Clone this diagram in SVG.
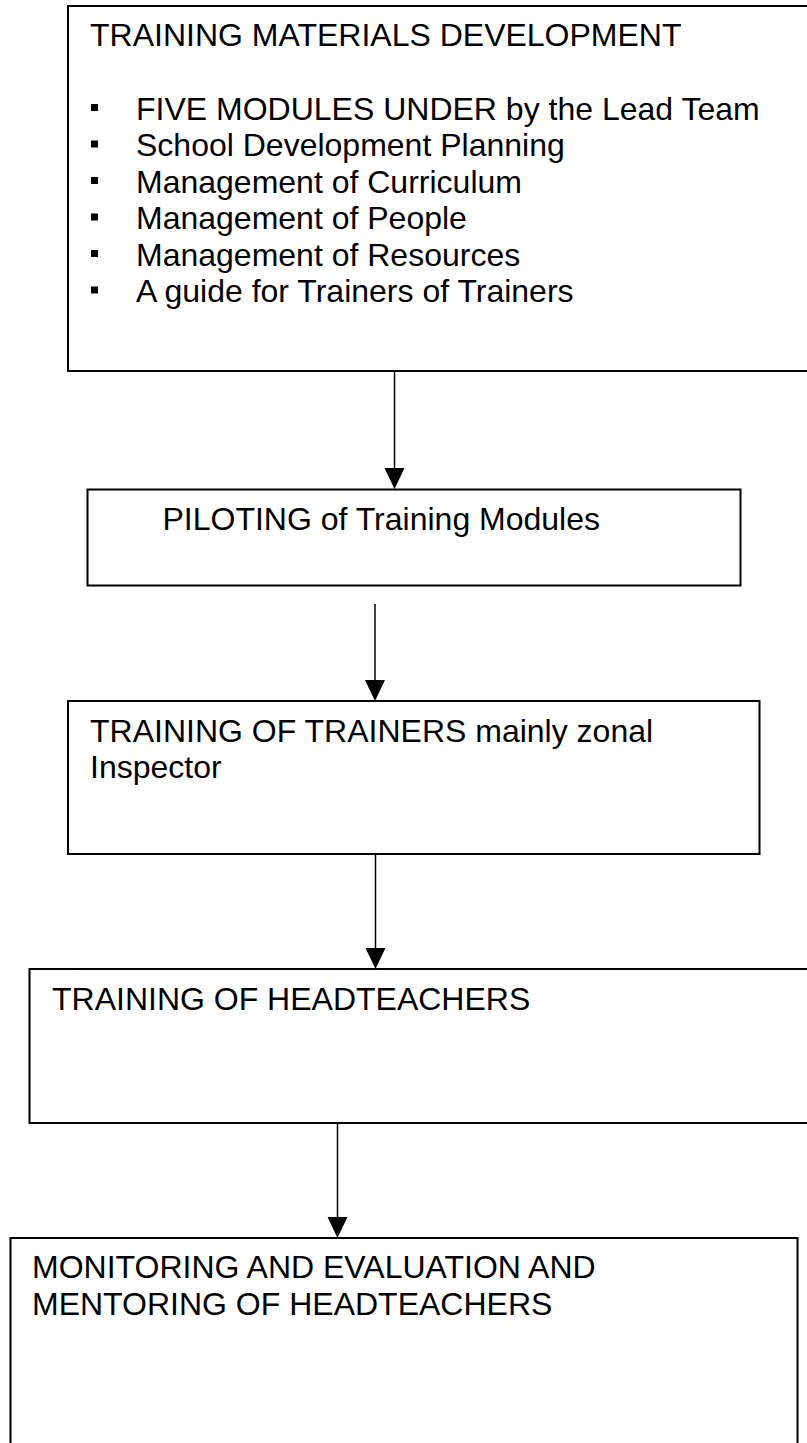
<svg xmlns="http://www.w3.org/2000/svg" width="807" height="1443" viewBox="0 0 807 1443">
<style>
.box{fill:#fff;stroke:#000;stroke-width:2}
.t{font-family:"Liberation Sans",Arial,sans-serif;font-size:32px;fill:#000}
.c{stroke:#000;stroke-width:1.5;fill:none}
.h{fill:#000}
.b{fill:#000}
</style>
<g id="connectors">
<line class="c" x1="394.5" y1="371" x2="394.5" y2="468"/>
<path class="h" d="M384.5,468 L404.5,468 L394.5,489 Z"/>
<line class="c" x1="375" y1="604" x2="375" y2="680"/>
<path class="h" d="M365,680 L385,680 L375,701 Z"/>
<line class="c" x1="375.5" y1="854" x2="375.5" y2="948"/>
<path class="h" d="M365.5,948 L385.5,948 L375.5,969 Z"/>
<line class="c" x1="337.5" y1="1123" x2="337.5" y2="1217"/>
<path class="h" d="M327.5,1217 L347.5,1217 L337.5,1238 Z"/>
</g>
<g id="node-materials">
<rect class="box" x="68" y="6" width="745" height="365"/>
<text class="t" x="90" y="46">TRAINING MATERIALS DEVELOPMENT</text>
<rect class="b" x="91" y="104" width="7" height="7"/>
<text class="t" x="136" y="119.5">FIVE MODULES UNDER by the Lead Team</text>
<rect class="b" x="91" y="140.5" width="7" height="7"/>
<text class="t" x="136" y="156">School Development Planning</text>
<rect class="b" x="91" y="177" width="7" height="7"/>
<text class="t" x="136" y="192.5">Management of Curriculum</text>
<rect class="b" x="91" y="213.5" width="7" height="7"/>
<text class="t" x="136" y="229">Management of People</text>
<rect class="b" x="91" y="250" width="7" height="7"/>
<text class="t" x="136" y="265.5">Management of Resources</text>
<rect class="b" x="91" y="286.5" width="7" height="7"/>
<text class="t" x="136" y="302">A guide for Trainers of Trainers</text>
</g>
<g id="node-piloting">
<rect class="box" x="87.5" y="489.5" width="653" height="96"/>
<text class="t" x="162.5" y="530">PILOTING of Training Modules</text>
</g>
<g id="node-tot">
<rect class="box" x="68" y="701" width="691.5" height="153"/>
<text class="t" x="90" y="741.5">TRAINING OF TRAINERS mainly zonal</text>
<text class="t" x="90" y="777.5">Inspector</text>
</g>
<g id="node-headteachers">
<rect class="box" x="29.5" y="969" width="785" height="154"/>
<text class="t" x="52" y="1009.5">TRAINING OF HEADTEACHERS</text>
</g>
<g id="node-monitoring">
<rect class="box" x="10.5" y="1238" width="787" height="215"/>
<text class="t" x="32" y="1278">MONITORING AND EVALUATION AND</text>
<text class="t" x="32" y="1315">MENTORING OF HEADTEACHERS</text>
</g>
</svg>
